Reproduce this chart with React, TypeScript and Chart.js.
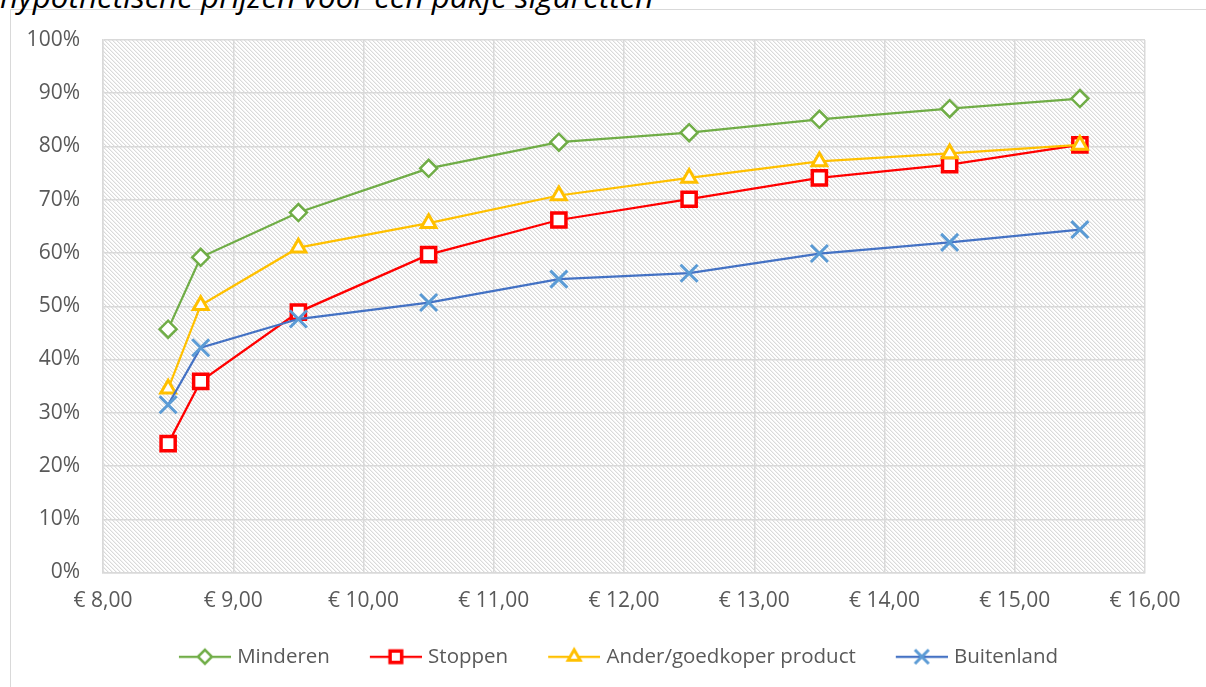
import React, { useEffect, useRef } from 'react';
import { Chart, registerables } from 'chart.js';

Chart.register(...registerables);

// ---- data ----
const titleText = 'hypothetische prijzen voor een pakje sigaretten';
const prices = [8.5, 8.75, 9.5, 10.5, 11.5, 12.5, 13.5, 14.5, 15.5];
const seriesNames = ['Minderen', 'Stoppen', 'Ander/goedkoper product', 'Buitenland'];
const minderen = [45.7, 59.2, 67.6, 75.9, 80.8, 82.6, 85.1, 87.1, 89.0];
const stoppen = [24.2, 35.9, 48.9, 59.7, 66.2, 70.1, 74.1, 76.6, 80.3];
const ander = [34.5, 50.2, 61.0, 65.6, 70.8, 74.1, 77.2, 78.7, 80.3];
const buitenland = [31.5, 42.2, 47.6, 50.7, 55.1, 56.2, 59.9, 62.0, 64.4];
const xTickValues = [8, 9, 10, 11, 12, 13, 14, 15, 16];
const yTickValues = [0, 10, 20, 30, 40, 50, 60, 70, 80, 90, 100];

const FONT = '"Open Sans", "DejaVu Sans", sans-serif';

type Marker = { style: string; r: number; lw: number; color: string; line: string };
const markers: Marker[] = [
  { style: 'rectRot', r: 8.5, lw: 2.5, color: '#70AD47', line: '#70AD47' },
  { style: 'rect', r: 10, lw: 3.5, color: '#FF0000', line: '#FF0000' },
  { style: 'triangle', r: 8.5, lw: 3, color: '#FFC000', line: '#FFC000' },
  { style: 'crossRot', r: 12, lw: 3, color: '#5B9BD5', line: '#4472C4' },
];

function makeHatch(ctx: CanvasRenderingContext2D) {
  const c = document.createElement('canvas');
  c.width = 4;
  c.height = 4;
  const g = c.getContext('2d')!;
  const img = g.createImageData(4, 4);
  for (let y = 0; y < 4; y++) {
    for (let x = 0; x < 4; x++) {
      const d = (((x - y) % 4) + 4) % 4;
      let v = 255;
      if (d === 0) v = 218;
      else if (d === 1) v = 241;
      const i = (y * 4 + x) * 4;
      img.data[i] = v;
      img.data[i + 1] = v;
      img.data[i + 2] = v;
      img.data[i + 3] = 255;
    }
  }
  g.putImageData(img, 0, 0);
  return ctx.createPattern(c, 'repeat');
}

function drawMarker(g: CanvasRenderingContext2D, m: Marker, x: number, y: number, scale: number) {
  const r = m.r * scale;
  g.lineWidth = m.lw;
  g.strokeStyle = m.color;
  g.fillStyle = '#ffffff';
  g.beginPath();
  if (m.style === 'rectRot') {
    g.moveTo(x - r, y);
    g.lineTo(x, y - r);
    g.lineTo(x + r, y);
    g.lineTo(x, y + r);
    g.closePath();
    g.fill();
    g.stroke();
  } else if (m.style === 'rect') {
    const s = r * Math.SQRT1_2;
    g.rect(x - s, y - s, 2 * s, 2 * s);
    g.fill();
    g.stroke();
  } else if (m.style === 'triangle') {
    g.moveTo(x, y - r);
    g.lineTo(x + 0.866 * r, y + 0.5 * r);
    g.lineTo(x - 0.866 * r, y + 0.5 * r);
    g.closePath();
    g.fill();
    g.stroke();
  } else {
    const s = r * Math.SQRT1_2;
    g.moveTo(x - s, y - s);
    g.lineTo(x + s, y + s);
    g.moveTo(x + s, y - s);
    g.lineTo(x - s, y + s);
    g.stroke();
  }
}

function legendImage(m: Marker) {
  const W = 86;
  const H = 30;
  const c = document.createElement('canvas');
  c.width = W;
  c.height = H;
  const g = c.getContext('2d')!;
  g.strokeStyle = m.line;
  g.lineWidth = 2.25;
  g.beginPath();
  g.moveTo(34, H / 2);
  g.lineTo(86, H / 2);
  g.stroke();
  drawMarker(g, m, 60, H / 2, 0.82);
  return c;
}

export default function App() {
  const ref = useRef<HTMLCanvasElement>(null);

  useEffect(() => {
    const canvas = ref.current!;
    const ctx = canvas.getContext('2d')!;
    const pattern = makeHatch(ctx);
    const values = [minderen, stoppen, ander, buitenland];
    const images = markers.map(legendImage);

    const hatchPlugin = {
      id: 'hatchBg',
      afterLayout(chart: any) {
        // let the y tick labels use the space left of the axis box
        chart.scales.y.left = 0;
      },
      beforeDraw(chart: any) {
        const { left, top, right, bottom } = chart.chartArea;
        const c = chart.ctx;
        c.save();
        c.fillStyle = pattern as any;
        c.fillRect(left, top, right - left, bottom - top);
        c.restore();
      },
    };

    const padLeft = 62;
    const chart = new Chart(canvas, {
      type: 'line',
      data: {
        datasets: seriesNames.map((name, i) => ({
          label: name,
          data: prices.map((p, j) => ({ x: p, y: values[i][j] })),
          borderColor: markers[i].line,
          backgroundColor: markers[i].line,
          borderWidth: 2.25,
          pointStyle: markers[i].style as any,
          pointRadius: markers[i].r,
          pointHoverRadius: markers[i].r,
          pointBorderWidth: markers[i].lw,
          pointBorderColor: markers[i].color,
          pointBackgroundColor: '#ffffff',
          tension: 0,
          fill: false,
          order: 4 - i,
        })),
      },
      options: {
        animation: false,
        responsive: false,
        events: [],
        layout: { autoPadding: false, padding: { left: padLeft, right: 61, top: 40, bottom: 10 } },
        scales: {
          x: {
            type: 'linear',
            min: 8,
            max: 16,
            afterBuildTicks: (s: any) => {
              s.ticks = xTickValues.map((v) => ({ value: v }));
            },
            afterFit: (s: any) => {
              s.height = 64;
              s.paddingLeft = 0;
              s.paddingRight = 0;
              s.paddingTop = 0;
              s.paddingBottom = 0;
            },
            ticks: {
              padding: 16,
              maxRotation: 0,
              autoSkip: false,
              color: '#595959',
              font: { family: FONT, size: 21 },
              callback: (v: any) => '€ ' + Number(v).toFixed(2).replace('.', ','),
            },
            grid: { color: '#d9d9d9', lineWidth: 1.5, drawTicks: false },
            border: { display: true, color: '#d9d9d9', width: 1.5 },
          },
          y: {
            type: 'linear',
            min: 0,
            max: 100,
            afterBuildTicks: (s: any) => {
              s.ticks = yTickValues.map((v) => ({ value: v }));
            },
            afterFit: (s: any) => {
              s.width = 103 - padLeft;
              s.paddingLeft = 0;
              s.paddingRight = 0;
              s.paddingTop = 0;
              s.paddingBottom = 0;
            },
            ticks: {
              padding: 23,
              autoSkip: false,
              color: '#595959',
              font: { family: FONT, size: 21 },
              callback: (v: any) => v + '%',
            },
            grid: { color: '#d9d9d9', lineWidth: 1.5, drawTicks: false },
            border: { display: true, color: '#d9d9d9', width: 1.5 },
          },
        },
        plugins: {
          title: { display: false },
          tooltip: { enabled: false },
          legend: {
            display: true,
            position: 'bottom',
            labels: {
              usePointStyle: true,
              pointStyleWidth: 78,
              padding: 10,
              color: '#595959',
              font: { family: FONT, size: 20.5 },
              generateLabels: (ch: any) =>
                ch.data.datasets.map((ds: any, i: number) => ({
                  text: ds.label,
                  pointStyle: images[i],
                  fillStyle: '#fff',
                  strokeStyle: ds.borderColor,
                  lineWidth: 0,
                  hidden: false,
                  datasetIndex: i,
                  fontColor: '#595959',
                })),
            },
          },
        },
      },
      plugins: [hatchPlugin],
    } as any);

    return () => chart.destroy();
  }, []);

  return (
    <div
      style={{
        position: 'fixed',
        left: 0,
        top: 0,
        width: 1206,
        height: 687,
        overflow: 'hidden',
        background: '#ffffff',
      }}
    >
      <div
        style={{
          position: 'absolute',
          left: 10,
          top: 9,
          width: 1400,
          height: 900,
          borderTop: '1px solid #d9d9d9',
          borderLeft: '1px solid #d9d9d9',
        }}
      />
      <div
        style={{
          position: 'absolute',
          left: 0,
          top: -26,
          lineHeight: '40px',
          font: 'italic 31.5px "Open Sans", sans-serif',
          whiteSpace: 'nowrap',
          color: '#000000',
        }}
      >
        {titleText}
      </div>
      <canvas ref={ref} width={1206} height={687} style={{ position: 'absolute', left: 0, top: 0 }} />
    </div>
  );
}
